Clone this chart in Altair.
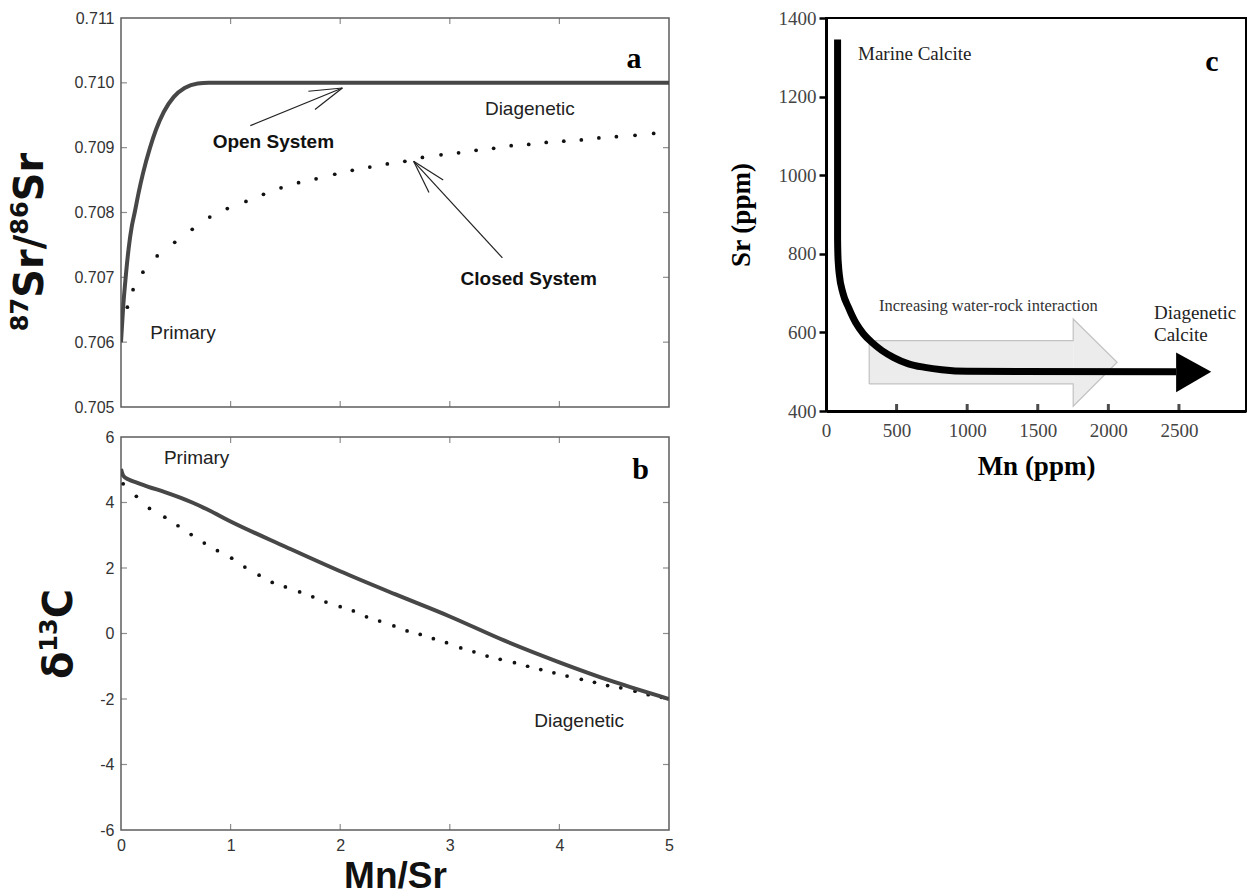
import altair as alt
import pandas as pd

SANS = "Liberation Sans"
SERIF = "Liberation Serif"
TITLE_FONT = "DejaVu Sans"
FRAME = "#5e5e5e"
TXT = "#333333"

# ---------------- Panel a : 87Sr/86Sr vs Mn/Sr ----------------
A_OPEN_X = [0, 0.02, 0.04, 0.07, 0.10, 0.125, 0.16, 0.20, 0.265, 0.32, 0.39, 0.48, 0.58, 0.70, 0.80, 5.0]
A_OPEN_Y = [0.7060, 0.70655, 0.70695, 0.70745, 0.70780, 0.70800, 0.70830, 0.70860, 0.70900,
            0.70928, 0.70955, 0.70978, 0.70992, 0.70999, 0.7100, 0.7100]
A_CLOSED_X = [0.058, 0.11, 0.20, 0.33, 0.49, 0.65, 0.81, 0.97, 1.14, 1.30, 1.46, 1.62, 1.78, 1.95,
              2.11, 2.27, 2.43, 2.59, 2.75, 2.92, 3.08, 3.24, 3.40, 3.56, 3.72, 3.88, 4.04, 4.20,
              4.36, 4.52, 4.69, 4.86]
A_CLOSED_Y = [0.70654, 0.70681, 0.70708, 0.70733, 0.70754, 0.70774, 0.70793, 0.70806, 0.70817,
              0.70828, 0.70838, 0.70846, 0.70852, 0.70859, 0.70865, 0.70870, 0.70875, 0.70879,
              0.70885, 0.70889, 0.70892, 0.70896, 0.70899, 0.70903, 0.70905, 0.70908, 0.70910,
              0.70912, 0.70915, 0.70917, 0.70919, 0.70922]
A_X_DOMAIN = [0, 5]
A_Y_DOMAIN = [0.705, 0.711]
A_X_TICKS = [1, 2, 3, 4]
A_Y_TICKS = [0.705, 0.706, 0.707, 0.708, 0.709, 0.710, 0.711]
A_TITLE = [("87", True), ("Sr", False), ("/", False), ("86", True), ("Sr", False)]
# arrow segments (tail/barbs -> tip)
A_ARROW_SEG = [0, 0, 1, 1, 2, 2, 3, 3, 4, 4, 5, 5]
A_ARROW_X = [1.18, 2.02, 1.71, 2.02, 1.77, 2.02, 3.48, 2.67, 2.94, 2.67, 2.81, 2.67]
A_ARROW_Y = [0.70934, 0.70992, 0.70987, 0.70992, 0.70959, 0.70992,
             0.70730, 0.70879, 0.70850, 0.70879, 0.70831, 0.70879]
A_TEXT = ["Diagenetic", "Primary"]
A_TEXT_X = [3.73, 0.565]
A_TEXT_Y = [0.70960, 0.70614]
A_BOLD = ["Open System", "Closed System"]
A_BOLD_X = [1.39, 3.72]
A_BOLD_Y = [0.70909, 0.70697]
A_LETTER = ["a"]
A_LETTER_X = [4.68]
A_LETTER_Y = [0.71037]

# ---------------- Panel b : d13C vs Mn/Sr ----------------
B_OPEN_X = [0, 0.02, 0.07, 0.15, 0.25, 0.40, 0.54, 0.65, 0.78, 1.0, 1.5, 2.0, 2.5, 3.0, 3.5, 4.0, 4.5, 5.0]
B_OPEN_Y = [5.02, 4.82, 4.70, 4.60, 4.48, 4.32, 4.15, 4.00, 3.80, 3.42, 2.65, 1.90, 1.20, 0.52,
            -0.22, -0.88, -1.48, -2.0]
B_CLOSED_X = [0.02, 0.14, 0.26, 0.40, 0.52, 0.64, 0.76, 0.88, 1.01, 1.13, 1.26, 1.38, 1.50, 1.63,
              1.75, 1.87, 2.00, 2.12, 2.24, 2.36, 2.49, 2.61, 2.73, 2.85, 2.97, 3.10, 3.22, 3.34,
              3.46, 3.59, 3.71, 3.83, 3.95, 4.07, 4.20, 4.32, 4.44, 4.56, 4.69, 4.81, 4.93]
B_CLOSED_Y = [4.57, 4.19, 3.82, 3.55, 3.29, 3.02, 2.76, 2.53, 2.30, 2.03, 1.78, 1.56, 1.42, 1.27,
              1.12, 0.96, 0.82, 0.69, 0.51, 0.38, 0.23, 0.08, -0.03, -0.16, -0.28, -0.44, -0.56,
              -0.69, -0.79, -0.89, -1.00, -1.10, -1.20, -1.30, -1.40, -1.49, -1.59, -1.66, -1.76,
              -1.87, -1.95]
B_X_DOMAIN = [0, 5]
B_Y_DOMAIN = [-6, 6]
B_X_LABELS = [0, 1, 2, 3, 4, 5]
B_X_TICKS = [1, 2, 3, 4]
B_Y_TICKS = [-6, -4, -2, 0, 2, 4, 6]
B_Y_INNER = [-4, -2, 0, 2, 4]
B_TITLE = [("δ", False), ("13", True), ("C", False)]
B_TEXT = ["Primary", "Diagenetic"]
B_TEXT_X = [0.69, 4.18]
B_TEXT_Y = [5.36, -2.67]
B_LETTER = ["b"]
B_LETTER_X = [4.74]
B_LETTER_Y = [4.98]

# ---------------- Panel c : Sr vs Mn ----------------
C_CURVE_X = [82, 82, 84, 88, 94, 120, 160, 210, 266, 330, 396, 480, 584, 700, 820, 1000, 2480]
C_CURVE_Y = [1345, 840, 800, 772, 748, 700, 663, 625, 596, 573, 554, 536, 520, 511, 505, 501, 500]
C_HEAD_X = [2480, 2729]
C_HEAD_Y = [448, 500]
C_HEAD_Y2 = [549, 500]
# light block arrow outline
C_BLOCK_X = [306, 1751, 1751, 2062, 1751, 1751, 306, 306]
C_BLOCK_Y = [469, 469, 412, 524, 634, 579, 579, 469]
# block arrow fill: body rectangle and head triangle
C_BODY_X = [306, 1751]
C_BODY_Y = [469, 469]
C_BODY_Y2 = [579, 579]
C_TIP_X = [1751, 2062]
C_TIP_Y = [412, 524]
C_TIP_Y2 = [634, 524]
C_X_DOMAIN = [0, 2975]
C_Y_DOMAIN = [400, 1400]
C_X_LABELS = [0, 500, 1000, 1500, 2000, 2500]
C_X_TICKS = [500, 1000, 1500, 2000, 2500]
C_Y_TICKS = [400, 600, 800, 1000, 1200, 1400]
C_TEXT = ["Marine Calcite", "Diagenetic", "Calcite"]
C_TEXT_X = [227, 2323, 2323]
C_TEXT_Y = [1309, 650, 594]
C_SMALL = ["Increasing water-rock interaction"]
C_SMALL_X = [1150]
C_SMALL_Y = [668]
C_LETTER = ["c"]
C_LETTER_X = [2734]
C_LETTER_Y = [1289]

# approximate advance widths (em) of DejaVu Sans Bold, used to lay out the rotated titles
ADV = {"8": 0.696, "7": 0.696, "6": 0.696, "1": 0.696, "3": 0.696, "S": 0.72, "r": 0.493,
       "/": 0.365, "C": 0.734, "δ": 0.687}


def frame(xs, ys, **extra):
    d = {"x": xs, "y": ys}
    d.update(extra)
    return pd.DataFrame(d)


def inner_ticks(xenc, yenc, xt, yt, xdom, ydom, color, width=1.2, size=12):
    """Inward ticks on all four sides (half of each tick is clipped away)."""
    vx = frame(xt * 2, [ydom[0]] * len(xt) + [ydom[1]] * len(xt))
    hy = frame([xdom[0]] * len(yt) + [xdom[1]] * len(yt), yt * 2)
    v = alt.Chart(vx).mark_tick(orient="vertical", size=size, thickness=width, color=color,
                                clip=True).encode(x=xenc, y=yenc)
    h = alt.Chart(hy).mark_tick(orient="horizontal", size=size, thickness=width, color=color,
                                clip=True).encode(x=xenc, y=yenc)
    return [v, h]


def text_layer(xs, ys, labels, xenc, yenc, **mk):
    return alt.Chart(frame(xs, ys, t=labels)).mark_text(**mk).encode(x=xenc, y=yenc, text="t:N")


def rotated_title(pieces, x_main, x_sup, y_center, size_main, size_sup):
    """Vertical (bottom-to-top) axis title built from pieces, superscripts raised."""
    widths = [sum(ADV[c] for c in t) * (size_sup if sup else size_main) for t, sup in pieces]
    y = y_center + sum(widths) / 2
    layers = []
    for (t, sup), w in zip(pieces, widths):
        layers.append(
            alt.Chart(pd.DataFrame({"t": [t]})).mark_text(
                angle=270, align="left", baseline="alphabetic", font=TITLE_FONT,
                fontWeight="bold", fontSize=size_sup if sup else size_main, color="#111"
            ).encode(x=alt.value(x_sup if sup else x_main), y=alt.value(y), text="t:N")
        )
        y -= w
    return layers


NUMLABEL = "replace(datum.label, '\u2212', '-')"

# ---------- panel a ----------
xa = alt.X("x:Q", scale=alt.Scale(domain=A_X_DOMAIN, nice=False, zero=False), axis=None)
ya = alt.Y("y:Q", scale=alt.Scale(domain=A_Y_DOMAIN, nice=False, zero=False),
           axis=alt.Axis(values=A_Y_TICKS, format=".3f", title=None, ticks=False, tickSize=0,
                         domain=False, grid=False, labelFont=SANS, labelFontSize=16,
                         labelColor=TXT, labelPadding=7))

panel_a = alt.layer(
    *inner_ticks(xa, ya, A_X_TICKS, A_Y_TICKS[1:-1], A_X_DOMAIN, A_Y_DOMAIN, FRAME),
    alt.Chart(frame(A_CLOSED_X, A_CLOSED_Y)).mark_circle(size=14, color="#111", opacity=1).encode(x=xa, y=ya),
    alt.Chart(frame(A_OPEN_X, A_OPEN_Y)).mark_line(color="#474747", strokeWidth=4, interpolate="monotone",
                                                   clip=True).encode(x=xa, y=ya),
    alt.Chart(frame(A_ARROW_X, A_ARROW_Y, seg=A_ARROW_SEG, o=list(range(len(A_ARROW_X)))))
    .mark_line(color="#222", strokeWidth=1.2).encode(x=xa, y=ya, detail="seg:N", order="o:Q"),
    text_layer(A_TEXT_X, A_TEXT_Y, A_TEXT, xa, ya, font=SANS, fontSize=19, color="#222"),
    text_layer(A_BOLD_X, A_BOLD_Y, A_BOLD, xa, ya, font=SANS, fontSize=19, fontWeight="bold", color="#111"),
    text_layer(A_LETTER_X, A_LETTER_Y, A_LETTER, xa, ya, font=SERIF, fontSize=30, fontWeight="bold", color="#000"),
    *rotated_title(A_TITLE, -78, -93, 224, 40, 24),
).properties(width=548, height=389, view=alt.ViewBackground(stroke=FRAME, strokeWidth=1.5))

# ---------- panel b ----------
xb = alt.X("x:Q", scale=alt.Scale(domain=B_X_DOMAIN, nice=False, zero=False),
           axis=alt.Axis(values=B_X_LABELS, format="d", title="Mn/Sr", ticks=False, tickSize=0,
                         domain=False, grid=False, labelFont=SANS, labelFontSize=16, labelColor=TXT,
                         labelPadding=7, labelFlush=False, titleFont=SANS, titleFontSize=37,
                         titleFontWeight="bold", titleColor="#111", titlePadding=34,
                         titleBaseline="alphabetic"))
yb = alt.Y("y:Q", scale=alt.Scale(domain=B_Y_DOMAIN, nice=False, zero=False),
           axis=alt.Axis(values=B_Y_TICKS, format="d", labelExpr=NUMLABEL, title=None, ticks=False,
                         tickSize=0, domain=False, grid=False, labelFont=SANS, labelFontSize=16,
                         labelColor=TXT, labelPadding=7))

panel_b = alt.layer(
    *inner_ticks(xb, yb, B_X_TICKS, B_Y_INNER, B_X_DOMAIN, B_Y_DOMAIN, FRAME),
    alt.Chart(frame(B_CLOSED_X, B_CLOSED_Y)).mark_circle(size=14, color="#111", opacity=1).encode(x=xb, y=yb),
    alt.Chart(frame(B_OPEN_X, B_OPEN_Y)).mark_line(color="#474747", strokeWidth=4, interpolate="monotone",
                                                   clip=True).encode(x=xb, y=yb),
    text_layer(B_TEXT_X, B_TEXT_Y, B_TEXT, xb, yb, font=SANS, fontSize=19, color="#222"),
    text_layer(B_LETTER_X, B_LETTER_Y, B_LETTER, xb, yb, font=SERIF, fontSize=30, fontWeight="bold", color="#000"),
    *rotated_title(B_TITLE, -49, -64, 197, 40, 24),
).properties(width=548, height=393, view=alt.ViewBackground(stroke=FRAME, strokeWidth=1.5))

# ---------- panel c ----------
xc = alt.X("x:Q", scale=alt.Scale(domain=C_X_DOMAIN, nice=False, zero=False),
           axis=alt.Axis(values=C_X_LABELS, format="d", title="Mn (ppm)", ticks=False, tickSize=0,
                         domain=True, domainColor="#000", domainWidth=3, grid=False,
                         labelFont=SERIF, labelFontSize=19, labelColor="#444", labelPadding=10,
                         labelFlush=False, titleFont=SERIF, titleFontSize=27, titleFontWeight="bold",
                         titleColor="#000", titlePadding=34, titleBaseline="alphabetic"))
yc = alt.Y("y:Q", scale=alt.Scale(domain=C_Y_DOMAIN, nice=False, zero=False),
           axis=alt.Axis(values=C_Y_TICKS, format="d", title="Sr (ppm)", ticks=True, tickSize=7,
                         tickWidth=2.5, tickColor="#000", domain=True, domainColor="#000",
                         domainWidth=3, grid=False, labelFont=SERIF, labelFontSize=19,
                         labelColor="#444", labelPadding=3, titleFont=SERIF, titleFontSize=27,
                         titleFontWeight="bold", titleColor="#000", titlePadding=29,
                         titleBaseline="alphabetic"))

c_ticks = alt.Chart(frame(C_X_TICKS, [C_Y_DOMAIN[0]] * len(C_X_TICKS))).mark_tick(
    orient="vertical", size=14, thickness=3, color="#000", clip=True).encode(x=xc, y=yc)

panel_c = alt.layer(
    alt.Chart(frame(C_BODY_X, C_BODY_Y, y2=C_BODY_Y2)).mark_area(color="#ececec", opacity=1)
    .encode(x=xc, y=yc, y2="y2:Q"),
    alt.Chart(frame(C_TIP_X, C_TIP_Y, y2=C_TIP_Y2)).mark_area(color="#ececec", opacity=1)
    .encode(x=xc, y=yc, y2="y2:Q"),
    alt.Chart(frame(C_BLOCK_X, C_BLOCK_Y, o=list(range(len(C_BLOCK_X)))))
    .mark_line(color="#c2c2c2", strokeWidth=1.2).encode(x=xc, y=yc, order="o:Q"),
    alt.Chart(frame(C_CURVE_X, C_CURVE_Y, o=list(range(len(C_CURVE_X)))))
    .mark_line(color="#000", strokeWidth=7, interpolate="monotone", strokeCap="butt")
    .encode(x=xc, y=yc, order="o:Q"),
    alt.Chart(frame(C_HEAD_X, C_HEAD_Y, y2=C_HEAD_Y2)).mark_area(color="#000")
    .encode(x=xc, y=yc, y2="y2:Q"),
    c_ticks,
    text_layer(C_TEXT_X, C_TEXT_Y, C_TEXT, xc, yc, font=SERIF, fontSize=19, align="left", color="#222"),
    text_layer(C_SMALL_X, C_SMALL_Y, C_SMALL, xc, yc, font=SERIF, fontSize=16.5, color="#333"),
    text_layer(C_LETTER_X, C_LETTER_Y, C_LETTER, xc, yc, font=SERIF, fontSize=30, fontWeight="bold", color="#000"),
).properties(width=420, height=393, view=alt.ViewBackground(stroke="#000", strokeWidth=2))

chart = alt.concat(
    panel_a, panel_c, panel_b, columns=2, spacing={"row": 26, "column": 157},
    bounds="flush", align="each",
).properties(
    padding={"left": 8, "top": 8, "right": 0, "bottom": 0},
    background="white",
)

chart.save("out.html", embed_options={"renderer": "svg", "actions": False})
